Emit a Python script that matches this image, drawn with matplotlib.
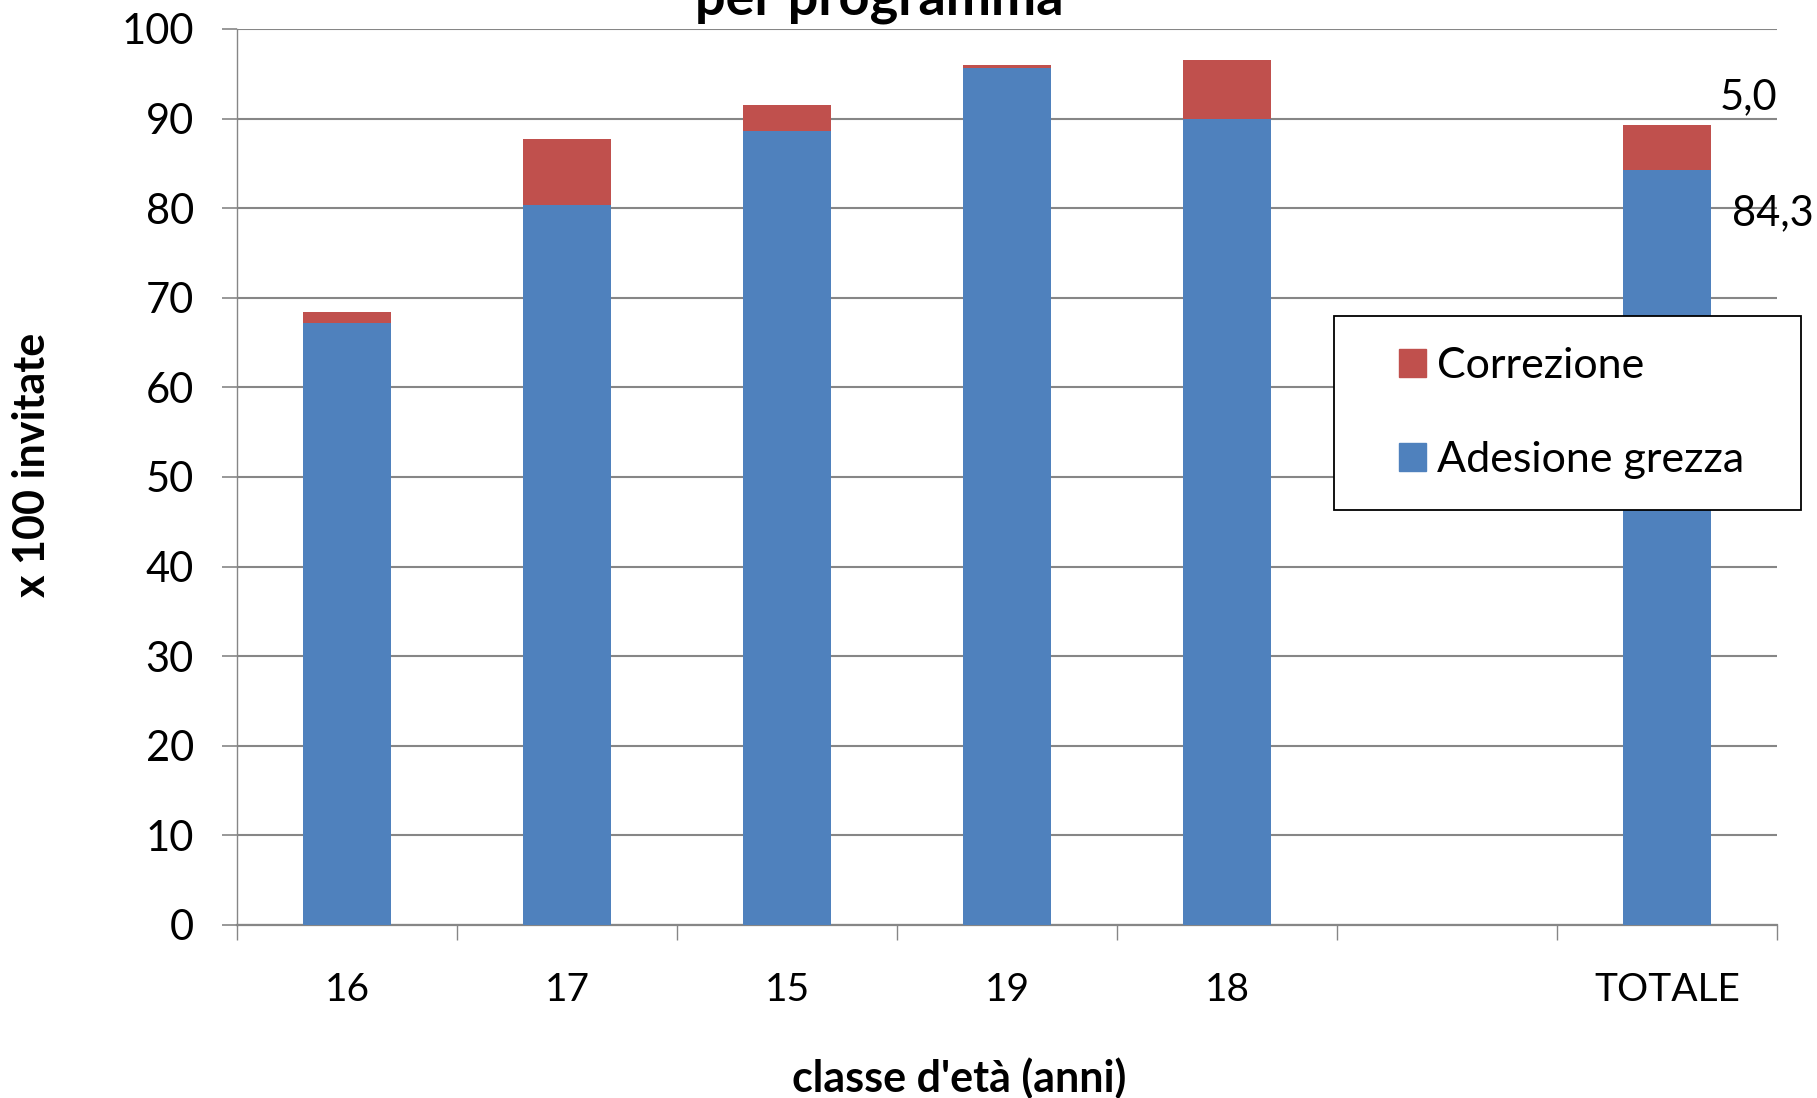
import matplotlib.pyplot as plt
import numpy as np
from matplotlib.patches import Patch, Rectangle

plt.rcParams['font.family'] = ['Lato', 'DejaVu Sans']

# dati
categorie = ['16', '17', '15', '19', '18', '', 'TOTALE']
adesione_grezza = [67.2, 80.3, 88.6, 95.6, 89.9, np.nan, 84.3]
correzione = [1.2, 7.4, 2.9, 0.4, 6.6, np.nan, 5.0]

blu = '#4F81BD'
rosso = '#C0504D'
grigio = '#868686'

fig = plt.figure(figsize=(18.17, 10.98), dpi=100)
ax = fig.add_axes([0.1304, 0.1576, 0.8476, 0.8160])

x = np.arange(len(categorie))
ax.bar(x, adesione_grezza, width=0.4, color=blu, zorder=3)
ax.bar(x, correzione, width=0.4, bottom=adesione_grezza, color=rosso, zorder=3)

# etichette solo per il totale
i = len(categorie) - 1
ax.annotate(f"{correzione[i]:.1f}".replace('.', ','),
            xy=(i, adesione_grezza[i] + correzione[i]),
            xytext=(59, 20), textcoords='offset points',
            ha='center', va='center', fontsize=30, annotation_clip=False)
ax.annotate(f"{adesione_grezza[i]:.1f}".replace('.', ','),
            xy=(i, adesione_grezza[i]),
            xytext=(76, -31), textcoords='offset points',
            ha='center', va='center', fontsize=30, annotation_clip=False)

ax.set_xlim(-0.5, len(categorie) - 0.5)
ax.set_ylim(0, 100)
ax.set_yticks(np.arange(0, 101, 10))
ax.yaxis.grid(True, color=grigio, linewidth=1.5, zorder=0)
ax.set_axisbelow(True)

ax.set_xticks(x)
ax.set_xticklabels(categorie)
ax.set_xticks(np.arange(-0.5, len(categorie), 1), minor=True)
ax.tick_params(axis='x', which='major', length=0, pad=34, labelsize=28)
ax.tick_params(axis='x', which='minor', length=11, width=1, color=grigio, direction='out')
ax.tick_params(axis='y', length=11, width=1.2, color=grigio, pad=20, labelsize=30)

for s in ['top', 'right']:
    ax.spines[s].set_visible(False)
ax.spines['left'].set_color(grigio)
ax.spines['left'].set_linewidth(1)
ax.spines['bottom'].set_color(grigio)
ax.spines['bottom'].set_linewidth(1.6)

fig.text(0.484, 0.987, 'per programma', ha='center', va='baseline',
         fontsize=39, fontweight='bold')
fig.text(0.528, 0.018, "classe d'età (anni)", ha='center', va='center',
         fontsize=31, fontweight='bold')
fig.text(0.0176, 0.577, 'x 100 invitate', ha='center', va='center',
         rotation=90, fontsize=31, fontweight='bold')

# riquadro della legenda
fig.patches.append(Rectangle((0.734, 0.5355), 0.257, 0.1767, transform=fig.transFigure,
                             facecolor='white', edgecolor='black', linewidth=1.3, zorder=5))
handles = [Patch(color=rosso), Patch(color=blu)]
leg = fig.legend(handles, ['Correzione', 'Adesione grezza'],
                 loc='center left', bbox_to_anchor=(0.770, 0.6238),
                 fontsize=31, frameon=False,
                 handlelength=0.62, handleheight=0.62, handletextpad=0.25,
                 labelspacing=1.3, borderpad=0, borderaxespad=0)
leg.set_zorder(6)

plt.savefig('out.png')
